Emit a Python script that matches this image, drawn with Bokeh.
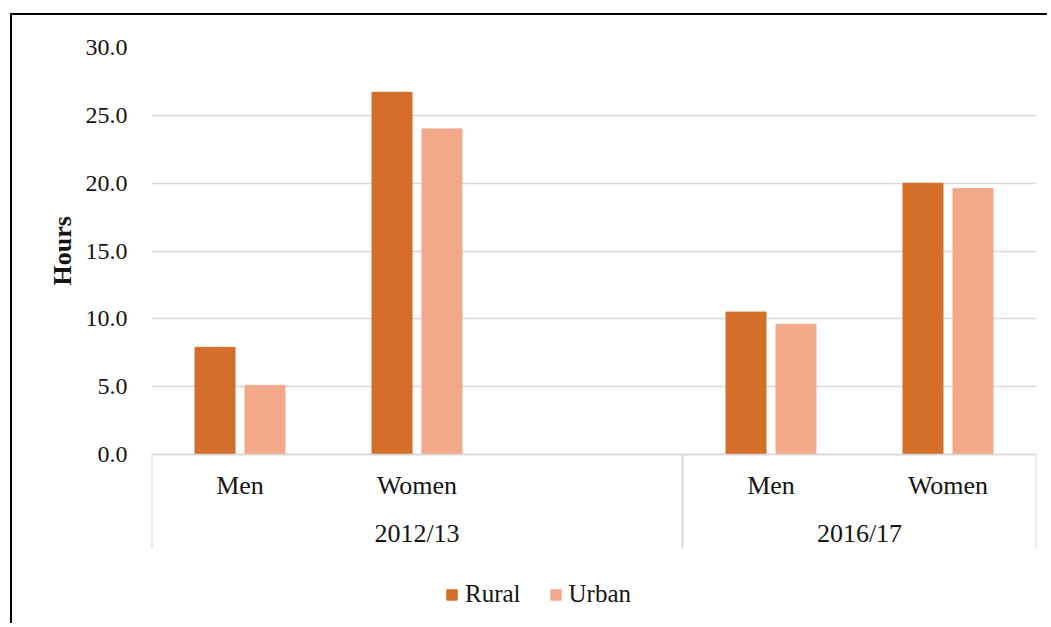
from bokeh.plotting import figure
from bokeh.models import (FactorRange, Range1d, FixedTicker, Legend, Title,
                          LegendItem, NumeralTickFormatter, ColumnDataSource)
from bokeh.transform import dodge
from bokeh.embed import file_html
from bokeh.resources import INLINE

# ---- data ----
periods = ["2012/13", "2012/13", "2016/17", "2016/17"]
sexes = ["Men", "Women", "Men", "Women"]
rural = [7.9, 26.7, 10.5, 20.0]
urban = [5.1, 24.0, 9.6, 19.6]
y_ticks = [0, 5, 10, 15, 20, 25, 30]
series_names = ["Rural", "Urban"]
y_title = "Hours"

RURAL_COLOR = "#D36F2B"
URBAN_COLOR = "#F1A98A"
GRID = "#D9D9D9"
TEXT = "#141414"
FONT = "Liberation Serif"

# category layout: the first period carries an empty slot after "Women"
x_factors = [("2012/13", "Men"), ("2012/13", "Women"), ("2012/13", " "),
             ("2016/17", "Men"), ("2016/17", "Women")]

# group boundaries (in category units) for the separator lines under the axis
bounds = [0]
for i in range(1, len(x_factors)):
    if x_factors[i][0] != x_factors[i - 1][0]:
        bounds.append(i)
bounds.append(len(x_factors))

AXIS_BAND = 6.93    # room under zero for the two rows of category labels
BOTTOM_BAND = 12.6  # room under zero down to the bottom (labels + legend)

src = ColumnDataSource(dict(x=list(zip(periods, sexes)), rural=rural, urban=urban))

p = figure(
    width=1037, height=610,
    x_range=FactorRange(factors=x_factors, factor_padding=0, group_padding=0,
                        subgroup_padding=0, range_padding=0),
    y_range=Range1d(-BOTTOM_BAND, 30),
    output_backend="svg", toolbar_location=None,
    min_border_left=139, min_border_right=13, min_border_top=32, min_border_bottom=0,
)
p.styles = {"border-left": "2px solid black", "border-top": "2px solid black",
            "margin-left": "10px", "margin-top": "13px"}

r1 = p.vbar(x=dodge("x", -0.1412, range=p.x_range), top="rural", width=0.226,
            source=src, fill_color=RURAL_COLOR, line_color=RURAL_COLOR)
r2 = p.vbar(x=dodge("x", 0.1412, range=p.x_range), top="urban", width=0.226,
            source=src, fill_color=URBAN_COLOR, line_color=URBAN_COLOR)

# separators of the period groups under the axis
p.segment(x0=bounds, x1=bounds, y0=[0] * len(bounds), y1=[-AXIS_BAND] * len(bounds),
          line_color=GRID, line_width=2)

p.outline_line_color = None
p.xgrid.grid_line_color = None
p.ygrid.grid_line_color = GRID
p.ygrid.grid_line_width = 1.5

# y axis
ya = p.yaxis[0]
ya.ticker = FixedTicker(ticks=y_ticks)
ya.formatter = NumeralTickFormatter(format="0.0")
ya.axis_line_color = None
ya.major_tick_line_color = None
ya.minor_tick_line_color = None
ya.major_label_standoff = 18
ya.major_label_text_font = FONT
ya.major_label_text_font_size = "24px"
ya.major_label_text_color = TEXT

p.add_layout(Title(text=y_title, align="left", offset=340, standoff=12,
                   text_font=FONT, text_font_size="26px", text_font_style="bold",
                   text_color=TEXT), "left")

# x axis (categorical), drawn at zero inside the frame
xa = p.xaxis[0]
xa.fixed_location = 0
xa.axis_line_color = GRID
xa.axis_line_width = 1.5
xa.major_tick_line_color = None
xa.major_tick_in = 0
xa.major_tick_out = 0
xa.major_label_standoff = 16
xa.major_label_text_font = FONT
xa.major_label_text_font_size = "26px"
xa.major_label_text_color = TEXT
xa.group_text_font = FONT
xa.group_text_font_size = "26px"
xa.group_text_font_style = "normal"
xa.group_text_color = TEXT
xa.separator_line_color = None

legend = Legend(items=[LegendItem(label=series_names[0], renderers=[r1]),
                       LegendItem(label=series_names[1], renderers=[r2])],
                orientation="horizontal", location=(294, 17),
                border_line_color=None, background_fill_alpha=0,
                label_text_font=FONT, label_text_font_size="25px",
                label_text_color=TEXT, glyph_width=13, glyph_height=13,
                label_standoff=7, spacing=28, margin=0, padding=6)
p.add_layout(legend, "center")

open("out.html", "w").write(file_html(p, INLINE))
